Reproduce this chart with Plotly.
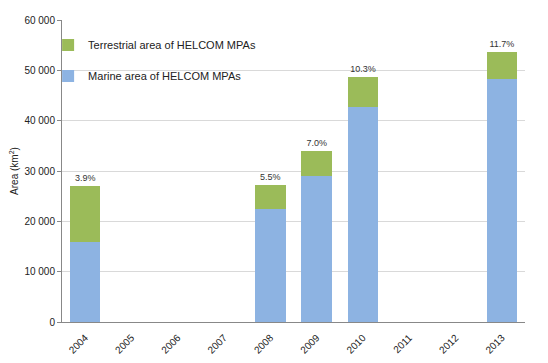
import plotly.graph_objects as go

years = ["2004", "2005", "2006", "2007", "2008", "2009", "2010", "2011", "2012", "2013"]
marine = [15950, None, None, None, 22400, 29100, 42700, None, None, 48250]
terrestrial = [11150, None, None, None, 4850, 4900, 5950, None, None, 5400]
pct_labels = ["3.9%", None, None, None, "5.5%", "7.0%", "10.3%", None, None, "11.7%"]
y_ticks = [0, 10000, 20000, 30000, 40000, 50000, 60000]

FONT = "Liberation Sans"
fig = go.Figure()
fig.add_trace(go.Bar(x=years, y=marine, name="Marine area of HELCOM MPAs",
                     marker=dict(color="#8DB3E2", line=dict(width=0)),
                     legendgroup="m", legendrank=2, hoverinfo="skip"))
fig.add_trace(go.Bar(x=years, y=terrestrial, name="Terrestrial area of HELCOM MPAs",
                     marker=dict(color="#9BBB59", line=dict(width=0)),
                     legendgroup="t", legendrank=1,
                     text=pct_labels, textposition="outside", cliponaxis=False,
                     textfont=dict(family=FONT, size=9, color="#333"), hoverinfo="skip"))

fig.update_layout(
    width=548, height=363,
    barmode="stack", bargap=0.34,
    separators=". ",
    paper_bgcolor="white", plot_bgcolor="white",
    margin=dict(l=54, r=31, t=12, b=49, autoexpand=False),
    font=dict(family=FONT, size=10, color="#222"),
    legend=dict(x=-0.03, y=0.965, xanchor="left", yanchor="top",
                traceorder="grouped", tracegroupgap=12,
                bgcolor="rgba(255,255,255,0)", itemwidth=30,
                font=dict(family=FONT, size=11, color="#222")),
    showlegend=True,
)
fig.update_xaxes(type="category", categoryorder="array", categoryarray=years,
                 range=[-0.5, len(years) - 0.5], automargin=False,
                 showline=True, linecolor="#888", linewidth=1, tickangle=-45,
                 ticks="outside", ticklen=5, tickcolor="rgba(0,0,0,0)",
                 tickfont=dict(size=10), showgrid=False)
fig.update_yaxes(range=[0, 60000], tickvals=y_ticks, tickformat=",d", automargin=False,
                 showline=True, linecolor="#888", linewidth=1,
                 ticks="outside", ticklen=4, tickcolor="#888",
                 gridcolor="#d9d9d9", gridwidth=1, zeroline=False,
                 title=dict(text="Area (km<sup>2</sup>)", font=dict(size=10), standoff=10))
fig.write_html("out.html")
